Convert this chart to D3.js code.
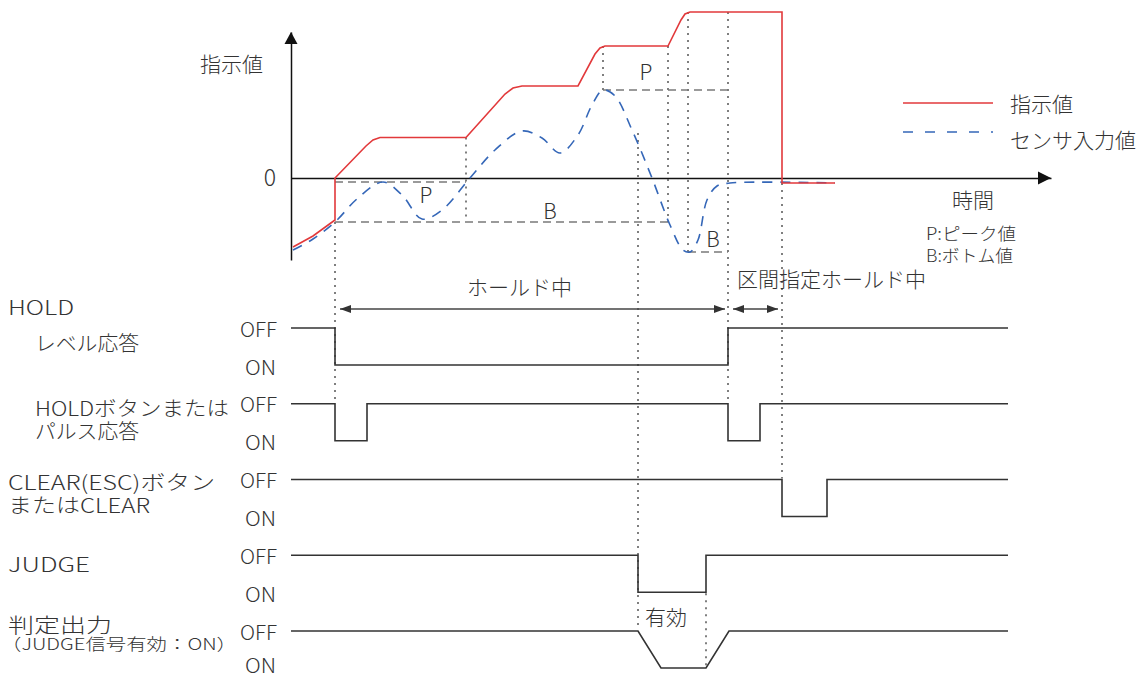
<!DOCTYPE html>
<html><head><meta charset="utf-8">
<script src="https://cdn.jsdelivr.net/npm/d3@7"></script>
<style>
html,body{margin:0;padding:0;background:#fff;}
svg{display:block;font-family:"Noto Sans CJK JP","Noto Sans",sans-serif;font-weight:300;}
</style>
</head><body>
<svg id="chart" width="1138" height="677"></svg>
<script>
// ---------------- DATA ----------------
// time in arbitrary units, value in arbitrary units (0 = zero line)
const commandValue = [ // 指示値 [t, v]
  [2,-69],[22,-58],[44,-42],[44,0],[75,32],[82,38],[89,40.5],[175,40.5],
  [214,84],[222,90],[231,92],[287,92],[304,124],[309,130],[314,132],[377,132],
  [390,158],[394,164],[399,166],[491,166],[491,-5],[544,-5]
];
const sensorValue = [ // センサ入力値 [t, v]
  [2,-72],[22,-61],[44,-44],[67,-20],[92,-4],[111,-17],[131,-41],[151,-32],
  [179,0],[204,28],[231,47],[251,40],[269,25],[287,43],[301,73],[312,88],
  [324,82],[341,48],[361,0],[379,-47],[392,-72],[399,-74],[407,-62],[416,-22],
  [426,-8],[439,-5],[544,-5]
];
const peakBottomNames = ["P","B","P","B"];
const peakBottomLevels = [-4,-44,88,-74];
const peakBottomStart = [44,44,312,397];
const peakBottomEnd = [175,377,437,437];
const peakBottomLabelT = [135,259,355,422];
const peakBottomLabelV = [-16,-32,107,-60];

const seriesNames = ["指示値","センサ入力値"];
const timeLabel = "時間";
const valueLabel = "指示値";
const notes = ["P:ピーク値","B:ボトム値"];

const signalNames = [
  ["HOLD","レベル応答"],
  ["HOLDボタンまたは","パルス応答"],
  ["CLEAR(ESC)ボタン","またはCLEAR"],
  ["JUDGE"],
  ["判定出力","（JUDGE信号有効：ON）"]
];
const stateLabels = ["OFF","ON"]; // 1 = OFF, 0 = ON
const signalStates = [
  [[0,1],[44,1],[44,0],[437,0],[437,1],[717,1]],
  [[0,1],[44,1],[44,0],[76,0],[76,1],[437,1],[437,0],[469,0],[469,1],[717,1]],
  [[0,1],[491,1],[491,0],[536,0],[536,1],[717,1]],
  [[0,1],[347,1],[347,0],[415,0],[415,1],[717,1]],
  [[0,1],[347,1],[370,0],[415,0],[438,1],[717,1]]
];
const holdSpans = [[49,434],[442,487]];
const holdSpanNames = ["ホールド中","区間指定ホールド中"];
const validLabel = "有効";
// guides: [t, top, bottom]; number = value, {row,state} = signal level
const guides = [
  [44,-44,{row:1,state:1,off:-3}],
  [175,40.5,-40],
  [312,132,88],
  [347,45,{row:4,state:1,off:-1}],
  [377,132,-44],
  [397,166,-74],
  [415,{row:3,state:0,off:1},{row:4,state:0,off:0}],
  [437,166,{row:1,state:1,off:-3}],
  [491,-5,{row:2,state:1,off:-1}]
];

// ---------------- LAYOUT ----------------
const svg = d3.select("#chart");
const TXT = "#333";
const RED = "#e2393b", BLUE = "#3567b8";
const x = d3.scaleLinear().domain([0,760]).range([291,1051]);
const y = d3.scaleLinear().domain([-82,146]).range([260,32]);
const rowY = d3.scaleLinear().domain([0,4]).range([328,631]);
const lvl = d3.scaleLinear().domain([1,0]).range([0,37]);
const sigY = (r,s) => rowY(r)+lvl(s);
const gy = g => typeof g === "number" ? y(g) : sigY(g.row,g.state)+(g.off||0);

// axes
const yAxis = d3.axisLeft(y).tickValues([0]).tickSize(0).tickPadding(15).tickFormat(()=> "0");
const gY = svg.append("g").attr("transform",`translate(${x(0)},0)`).call(yAxis);
gY.select(".domain").attr("stroke","#111").attr("stroke-width",1.5);
gY.selectAll("text").attr("font-size",23).attr("fill",TXT).attr("font-family","Noto Sans CJK JP");
const xAxis = d3.axisBottom(x).tickValues([]).tickSizeOuter(0);
const gX = svg.append("g").attr("transform",`translate(0,${y(0)})`).call(xAxis);
gX.select(".domain").attr("stroke","#111").attr("stroke-width",1.5);
// arrowheads
svg.append("path").attr("d",`M${x(0)},${y(146)}L${x(0)-6.5},${y(146)+12}L${x(0)+6.5},${y(146)+12}Z`).attr("fill","#111");
svg.append("path").attr("d",`M${x(760)},${y(0)}L${x(760)-13},${y(0)-6.5}L${x(760)-13},${y(0)+6.5}Z`).attr("fill","#111");

// guides (dotted)
svg.append("g").selectAll("line").data(guides).join("line")
  .attr("x1",d=>x(d[0])).attr("x2",d=>x(d[0]))
  .attr("y1",d=>gy(d[1])).attr("y2",d=>gy(d[2]))
  .attr("stroke","#555").attr("stroke-width",1.5).attr("stroke-dasharray","2,5");

// peak/bottom dashed
const pb = peakBottomNames.map((n,i)=>({n,v:peakBottomLevels[i],t0:peakBottomStart[i],t1:peakBottomEnd[i],lt:peakBottomLabelT[i],lv:peakBottomLabelV[i]}));
svg.append("g").selectAll("line").data(pb).join("line")
  .attr("x1",d=>x(d.t0)).attr("x2",d=>x(d.t1)).attr("y1",d=>y(d.v)).attr("y2",d=>y(d.v))
  .attr("stroke","#7a7a7a").attr("stroke-width",1.6).attr("stroke-dasharray","8,5");
svg.append("g").selectAll("text").data(pb).join("text")
  .attr("x",d=>x(d.lt)).attr("y",d=>y(d.lv)).attr("text-anchor","middle").attr("dominant-baseline","central")
  .attr("font-size",21).attr("fill",TXT).text(d=>d.n);

// series
const line = d3.line().x(d=>x(d[0])).y(d=>y(d[1]));
svg.append("path").attr("d",line.curve(d3.curveCatmullRom.alpha(0.5))(sensorValue))
  .attr("fill","none").attr("stroke",BLUE).attr("stroke-width",1.6).attr("stroke-dasharray","10,8");
svg.append("path").attr("d",line.curve(d3.curveLinear)(commandValue))
  .attr("fill","none").attr("stroke",RED).attr("stroke-width",1.6);

// legend
const lg = svg.append("g");
seriesNames.forEach((n,i)=>{
  const ly = [103,132][i];
  lg.append("line").attr("x1",903).attr("x2",993).attr("y1",ly).attr("y2",ly)
    .attr("stroke",i?BLUE:RED).attr("stroke-width",1.6).attr("stroke-dasharray",i?"10,12":null);
  lg.append("text").attr("x",1010).attr("y",[103,139][i]).attr("dominant-baseline","central")
    .attr("font-size",21).attr("fill",TXT).text(n);
});

function label(t,xx,yy,size,opt={}){
  const e = svg.append("text").attr("x",xx).attr("y",yy).attr("dominant-baseline","central")
    .attr("font-size",size).attr("fill",TXT).text(t);
  if(opt.anchor) e.attr("text-anchor",opt.anchor);
  if(opt.len) e.attr("textLength",opt.len).attr("lengthAdjust","spacingAndGlyphs");
  return e;
}
label(valueLabel,200,63,21);
label(timeLabel,952,199,21);
label(notes[0],926,232,17,{len:90});
label(notes[1],926,254,17,{len:87});

// hold spans
const arrowHead = (px,py,dir)=>`M${px},${py}L${px-dir*11},${py-4}L${px-dir*11},${py+4}Z`;
holdSpans.forEach((s,i)=>{
  const yy = 309;
  svg.append("line").attr("x1",x(s[0])).attr("x2",x(s[1])).attr("y1",yy).attr("y2",yy).attr("stroke","#444").attr("stroke-width",1.6);
  svg.append("path").attr("d",arrowHead(x(s[0]),yy,-1)).attr("fill","#333");
  svg.append("path").attr("d",arrowHead(x(s[1]),yy,1)).attr("fill","#333");
});
label(holdSpanNames[0],467,286,21);
label(holdSpanNames[1],737,278,21);
label(validLabel,645,616,21);

// signals
const sline = d3.line();
signalStates.forEach((st,r)=>{
  svg.append("path").attr("d",sline(st.map(d=>[x(d[0]),sigY(r,d[1])])))
    .attr("fill","none").attr("stroke","#333").attr("stroke-width",1.6);
  label(stateLabels[0],277,sigY(r,1),20,{anchor:"end",len:37});
  label(stateLabels[1],276,Math.min(sigY(r,0)+1,664),20,{anchor:"end",len:31});
});
// signal names
const nameLayout = [
  [[8,306,20,66],[35,342,20,104]],
  [[35,407,20,194],[35,430,20,104]],
  [[8,481,20,207],[8,504,20,142]],
  [[8,563,20,82]],
  [[8,624,20,104],[1,643,16,236]]
];
signalNames.forEach((lines,i)=>lines.forEach((t,j)=>{
  const L = nameLayout[i][j];
  label(t,L[0],L[1],L[2],L[3]?{len:L[3]}:{});
}));
</script>
</body></html>
